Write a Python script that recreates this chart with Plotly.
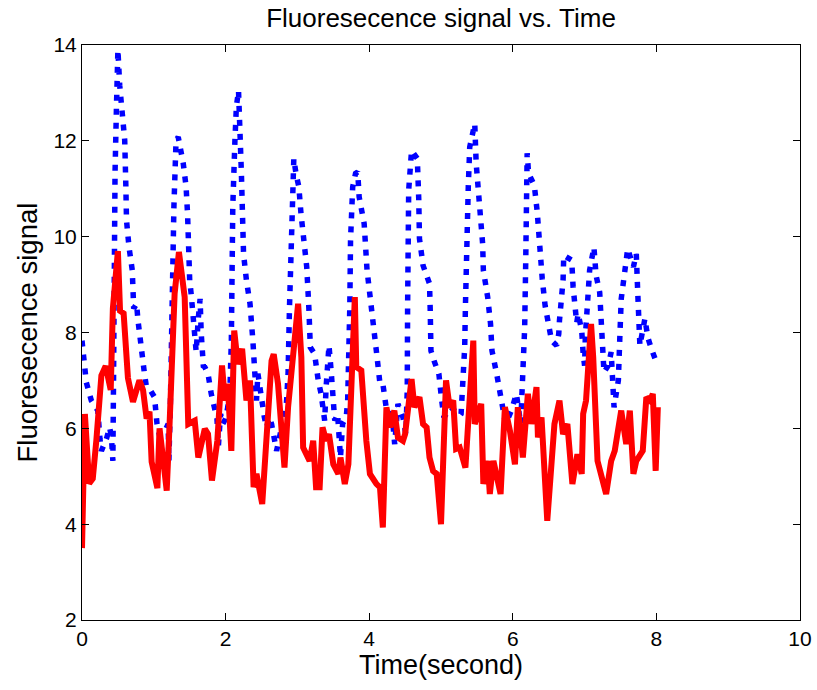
import plotly.graph_objects as go

# Red (solid) series: time (s) and fluorescence signal
red_time = [0.00, 0.04, 0.10, 0.15, 0.20, 0.27, 0.33, 0.40, 0.43, 0.50, 0.53, 0.58, 0.64, 0.71, 0.80, 0.85, 0.90, 0.94, 0.97, 1.05, 1.08, 1.18, 1.22,
            1.29, 1.35, 1.41, 1.43, 1.48, 1.57, 1.62, 1.71, 1.755, 1.81, 1.885, 1.95, 1.99, 2.03, 2.08, 2.12, 2.17, 2.23, 2.29, 2.34, 2.39, 2.43, 2.51, 2.57, 2.64, 2.67,
            2.73, 2.82, 2.87, 3.01, 3.055, 3.08, 3.17, 3.22, 3.26, 3.31, 3.35, 3.40, 3.44, 3.50, 3.57, 3.60, 3.66, 3.71, 3.80, 3.82, 3.89, 3.96, 4.01,
            4.10, 4.15, 4.19, 4.24, 4.29, 4.35, 4.40, 4.47, 4.50, 4.59, 4.63, 4.70, 4.75, 4.80, 4.84, 4.89, 4.94, 5.00, 5.07, 5.12, 5.17, 5.21, 5.26,
            5.34, 5.45, 5.47, 5.56, 5.59, 5.65, 5.68, 5.73, 5.83, 5.89, 5.96, 6.03, 6.07, 6.14, 6.21, 6.26, 6.33, 6.35, 6.40, 6.48, 6.58, 6.65,
            6.70, 6.76, 6.83, 6.90, 6.96, 6.98, 7.02, 7.09, 7.12, 7.18, 7.23, 7.30, 7.37, 7.42, 7.51, 7.58, 7.63, 7.68, 7.72, 7.81, 7.86, 7.91, 7.95, 7.99, 8.02]
red_signal = [3.5, 6.3, 4.85, 4.95, 5.75, 7.1, 7.3, 6.8, 8.5, 9.7, 8.45, 8.4, 7.05, 6.55, 7.0, 6.8, 6.2, 6.35, 5.3, 4.75, 6.0, 4.7, 6.1,
              8.81, 9.68, 8.81, 8.74, 6.09, 6.16, 5.39, 5.99, 5.88, 4.91, 5.74, 7.31, 6.58, 6.93, 5.53, 8.04, 7.34, 7.66, 6.58, 7.0, 4.77, 5.05, 4.42, 5.74, 7.41, 7.55,
              6.93, 5.18, 6.44, 8.6, 7.48, 5.6, 5.32, 5.74, 4.77, 4.77, 6.02, 5.74, 5.88, 5.25, 5.05, 5.39, 4.84, 5.25, 8.74, 7.28, 7.21, 5.74, 5.05,
              4.84, 4.77, 3.93, 6.44, 6.02, 6.37, 5.81, 5.74, 5.88, 7.03, 6.44, 6.65, 6.09, 6.02, 5.39, 5.11, 5.05, 4.0, 7.0, 6.44, 6.58, 5.57, 5.6,
              5.18, 7.83, 6.09, 6.51, 4.84, 5.32, 4.63, 5.32, 4.63, 6.44, 5.95, 5.25, 6.44, 5.39, 6.72, 6.09, 6.86, 5.81, 6.23, 4.07, 6.09, 6.58,
              5.88, 6.09, 4.84, 5.46, 5.05, 6.30, 6.58, 8.18, 7.48, 5.32, 5.05, 4.63, 5.32, 5.53, 6.37, 5.67, 6.37, 5.05, 5.32, 5.53, 6.65, 6.58, 6.72, 5.11, 6.44]

# Blue (dotted) series
blue_time = [0.00, 0.04, 0.06, 0.13, 0.22, 0.25, 0.27, 0.34, 0.385, 0.41, 0.43, 0.44, 0.445, 0.455, 0.46, 0.48, 0.50, 0.525, 0.56, 0.595, 0.61, 0.62, 0.655,
             0.70, 0.72, 0.76, 0.78, 0.83, 0.87, 0.895, 0.95, 1.01, 1.045, 1.08, 1.14, 1.20, 1.21, 1.23, 1.244, 1.27, 1.28, 1.31, 1.34, 1.41, 1.45, 1.47,
             1.48, 1.50, 1.52, 1.56, 1.59, 1.62, 1.645, 1.66, 1.69, 1.71, 1.755, 1.80, 1.84, 1.88, 1.90, 1.93, 1.96, 2.00, 2.03, 2.06, 2.08, 2.09, 2.10,
             2.13, 2.15, 2.18, 2.20, 2.22, 2.24, 2.25, 2.29, 2.34, 2.38, 2.41, 2.43, 2.45, 2.475, 2.54, 2.57, 2.61, 2.64, 2.71, 2.78, 2.80, 2.85, 2.87,
             2.89, 2.92, 2.94, 2.95, 2.98, 3.02, 3.05, 3.10, 3.13, 3.16, 3.18, 3.24, 3.26, 3.29, 3.33, 3.36, 3.38, 3.40, 3.44, 3.47, 3.50, 3.52, 3.56,
             3.60, 3.63, 3.68, 3.70, 3.71, 3.73, 3.74, 3.77, 3.81, 3.84, 3.86, 3.93, 3.97, 4.03, 4.08, 4.11, 4.15, 4.19, 4.24, 4.26, 4.31, 4.355, 4.40,
             4.47, 4.51, 4.53, 4.535, 4.54, 4.55, 4.59, 4.67, 4.69, 4.70, 4.75, 4.84, 4.85, 4.86, 4.91, 4.97, 5.01, 5.04, 5.14, 5.26, 5.28, 5.32, 5.33,
             5.34, 5.35, 5.36, 5.38, 5.40, 5.47, 5.49, 5.54, 5.58, 5.59, 5.65, 5.69, 5.71, 5.78, 5.84, 5.90, 5.98, 6.05, 6.11, 6.14, 6.165, 6.18, 6.19,
             6.20, 6.22, 6.30, 6.34, 6.37, 6.41, 6.45, 6.49, 6.54, 6.61, 6.64, 6.65, 6.70, 6.71, 6.82, 6.84, 6.89, 6.91, 6.96, 6.98, 7.00, 7.01, 7.04,
             7.07, 7.13, 7.16, 7.21, 7.24, 7.27, 7.33, 7.37, 7.41, 7.47, 7.49, 7.51, 7.58, 7.60, 7.68, 7.72, 7.74, 7.75, 7.77, 7.84, 7.88, 7.93, 8.00]
blue_signal = [7.83, 7.24, 6.96, 6.58, 6.37, 5.78, 5.53, 5.78, 6.02, 5.81, 5.32, 7.14, 8.53, 9.92, 11.32, 12.71, 13.9, 13.16, 12.5, 12.01, 11.1, 10.34, 9.78,
               9.3, 8.5, 8.6, 8.25, 7.48, 7.14, 6.89, 6.8, 6.65, 6.09, 5.85, 5.9, 6.09, 5.32, 6.44, 7.83, 9.23, 10.62, 12.01, 12.08, 11.53, 11.04, 10.48,
               9.92, 9.09, 8.81, 8.1, 7.6, 8.3, 8.7, 8.0, 7.3, 7.28, 7.14, 6.72, 6.44, 6.2, 5.64, 6.3, 6.09, 6.2, 6.44, 6.79, 7.83, 9.23, 10.62,
               12.01, 12.71, 13.05, 12.43, 11.32, 10.2, 9.64, 9.09, 8.6, 7.83, 7.28, 6.58, 7.14, 6.86, 6.23, 6.02, 6.23, 6.09, 5.53, 6.02, 5.81, 6.58, 7.14,
               8.53, 9.92, 11.32, 11.63, 11.32, 11.04, 10.48, 9.92, 9.37, 8.5, 7.69, 7.55, 7.24, 7.0, 6.72, 6.44, 6.16, 6.86, 7.73, 7.2, 6.37, 6.16, 6.3,
               5.39, 6.1, 6.23, 6.58, 7.14, 8.53, 9.92, 11.04, 11.32, 11.35, 10.83, 10.27, 9.3, 8.6, 8.04, 7.48, 6.93, 6.93, 6.40, 6.13, 6.44, 5.67, 6.51,
               6.23, 5.88, 6.79, 8.53, 9.92, 10.97, 11.8, 11.63, 10.79, 9.96, 9.4, 9.02, 8.46, 7.62, 7.38, 7.14, 6.58, 6.23, 6.44, 6.26, 6.30, 7.14, 7.69,
               8.53, 9.37, 10.2, 11.04, 11.87, 12.36, 11.53, 10.66, 9.85, 9.3, 8.74, 8.18, 7.62, 7.1, 6.54, 6.09, 6.37, 6.72, 6.09, 6.93, 8.08, 9.47, 10.86,
               11.74, 11.32, 11.07, 10.52, 9.82, 9.12, 8.56, 8.29, 7.83, 7.73, 7.97, 8.25, 9.09, 9.61, 9.51, 8.95, 8.2, 8.39, 8.04, 7.55, 7.31, 7.90, 8.46,
               9.30, 9.78, 9.19, 8.84, 8.01, 7.17, 7.31, 7.59, 6.44, 7.0, 7.87, 8.70, 9.51, 9.75, 9.37, 9.64, 8.84, 8.0, 7.73, 8.29, 7.90, 7.66, 7.38]

x_ticks = [0, 2, 4, 6, 8, 10]
y_ticks = [2, 4, 6, 8, 10, 12, 14]

FONT = "Liberation Sans, Arial, Helvetica, sans-serif"

fig = go.Figure()
fig.add_trace(go.Scatter(x=blue_time, y=blue_signal, mode="lines",
                         line=dict(color="#0000FF", width=5.5, dash="6px,8px"),
                         showlegend=False))
fig.add_trace(go.Scatter(x=red_time, y=red_signal, mode="lines",
                         line=dict(color="#FF0000", width=6),
                         showlegend=False))

axis_common = dict(showline=True, linecolor="black", linewidth=1, mirror="ticks",
                   ticks="inside", ticklen=7, tickcolor="black", tickwidth=1,
                   showgrid=False, zeroline=False, automargin=False,
                   tickfont=dict(family=FONT, size=21, color="black"))

fig.update_xaxes(range=[0, 10], tickvals=x_ticks, ticktext=[str(v) for v in x_ticks], **axis_common)
fig.update_yaxes(range=[2, 14], tickvals=y_ticks, ticktext=[str(v) for v in y_ticks], **axis_common)

fig.update_layout(
    width=817, height=690, autosize=False,
    margin=dict(l=82, r=17, t=45, b=70),
    paper_bgcolor="white", plot_bgcolor="white",
    title=dict(text="Fluoresecence signal vs. Time", x=0.5, xref="paper",
               y=1 - 18 / 690, yref="container", yanchor="middle", xanchor="center",
               automargin=False,
               font=dict(family=FONT, size=26, color="black")),
    annotations=[
        dict(text="Time(second)", x=0.5, y=0, xref="paper", yref="paper",
             xanchor="center", yanchor="middle", yshift=-45, showarrow=False,
             font=dict(family=FONT, size=27, color="black")),
        dict(text="Fluoresecence signal", x=0, y=0.5, xref="paper", yref="paper",
             xanchor="center", yanchor="middle", xshift=-55, textangle=-90, showarrow=False,
             font=dict(family=FONT, size=27.5, color="black")),
    ],
)

# remove the default 8px page margin so the 817x690 figure fills the window exactly
fig.write_html("out.html",
               config={"displayModeBar": False, "responsive": False},
               post_script="document.body.style.margin='0';")
